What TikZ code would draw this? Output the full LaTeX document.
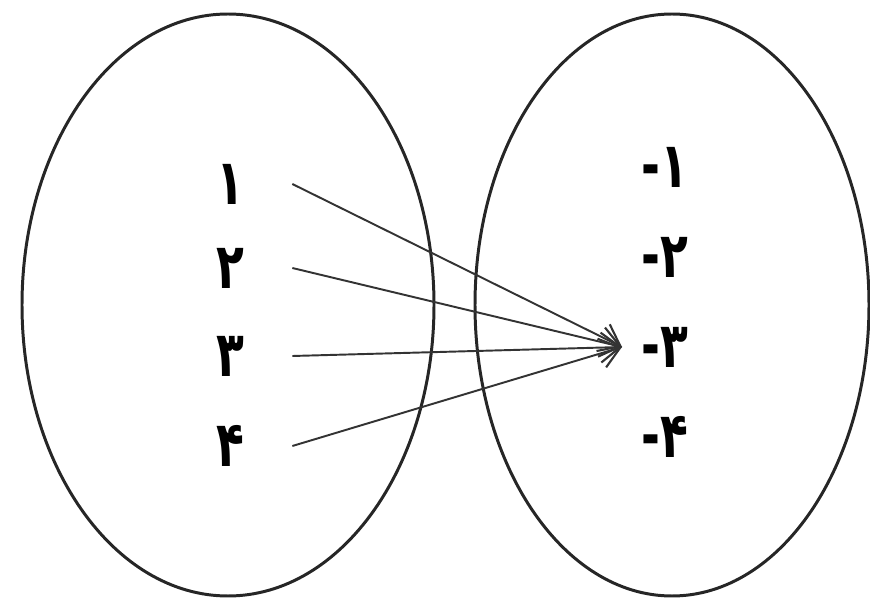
\documentclass[tikz,border=0pt]{standalone}
\usepackage{fontspec}
\newfontfamily\fafont[Script=Arabic, FakeStretch=0.72]{DejaVu Sans}
\TeXXeTstate=1
\usetikzlibrary{arrows.meta}
\tikzset{%
  setline/.style={line width=1.7pt, draw=black!85},
  elem/.style={font=\fafont\bfseries\fontsize{36}{38}\selectfont, inner sep=0pt},
  map/.style={line width=1.1pt, draw=black!80, -{Straight Barb[length=11pt, width=17pt, line width=1.2pt]}},
}

\begin{document}
\begin{tikzpicture}[x=0.02cm, y=-0.02cm]
    \useasboundingbox (0,0) rectangle (870,601);

    % the two sets
    \draw[setline] (228,305) ellipse [x radius=206, y radius=291];
    \draw[setline] (672,305) ellipse [x radius=197, y radius=291];

    % domain
    \node[elem, minimum width=2.48cm] (l1) at (230,184) {\beginR ۱\endR};
    \node[elem, minimum width=2.48cm] (l2) at (230,268) {\beginR ۲\endR};
    \node[elem, minimum width=2.48cm] (l3) at (230,356) {\beginR ۳\endR};
    \node[elem, minimum width=2.48cm] (l4) at (230,446) {\beginR ۴\endR};

    % codomain
    \node[elem, anchor=west, inner xsep=11pt] (r1) at (622,167) {\beginR ۱-\endR};
    \node[elem, anchor=west, inner xsep=11pt] (r2) at (622,257) {\beginR ۲-\endR};
    \node[elem, anchor=west, inner xsep=11pt] (r3) at (622,347) {\beginR ۳-\endR};
    \node[elem, anchor=west, inner xsep=11pt] (r4) at (622,437) {\beginR ۴-\endR};

    % every element goes to -3
    \draw[map] (l1.east) -- (r3.west);
    \draw[map] (l2.east) -- (r3.west);
    \draw[map] (l3.east) -- (r3.west);
    \draw[map] (l4.east) -- (r3.west);

\end{tikzpicture}
\end{document}
